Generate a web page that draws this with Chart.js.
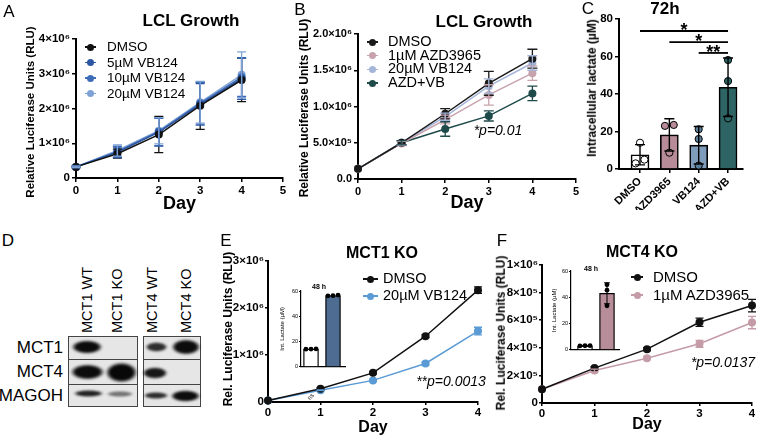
<!DOCTYPE html>
<html>
<head>
<meta charset="utf-8">
<script src="https://cdn.jsdelivr.net/npm/chart.js@4.4.1/dist/chart.umd.min.js"></script>
<style>
  html, body { margin: 0; padding: 0; background: #fff; }
  body { position: relative; width: 757px; height: 440px; overflow: hidden;
         font-family: "Liberation Sans", Arial, Helvetica, sans-serif; color: #000; }
  .abs { position: absolute; }
  .txt { position: absolute; white-space: nowrap; line-height: 1.2; }
  .row { position: absolute; background: #e6e6e6; border: 1px solid #444; box-sizing: border-box; }
  .band { position: absolute; filter: blur(0.8px); }
</style>
</head>
<body>
<script>
// ---- data ----
const days = [0, 1, 2, 3, 4];
const dayTicks = ['0', '1', '2', '3', '4', '5'];

// A: LCL growth, VB124 doses
const aNames = ['DMSO', '5µM VB124', '10µM VB124', '20µM VB124'];
const aDmso = [3.2e5, 7.0e5, 1.25e6, 2.08e6, 2.82e6];
const a5 = [3.2e5, 7.4e5, 1.32e6, 2.12e6, 2.86e6];
const a10 = [3.2e5, 7.6e5, 1.33e6, 2.15e6, 2.9e6];
const a20 = [3.2e5, 7.9e5, 1.36e6, 2.18e6, 2.97e6];
const aDmsoErr = [0.2e5, 1.3e5, 5.2e5, 6.8e5, 6.2e5];
const a5Err = [0.2e5, 1.5e5, 4.0e5, 6.0e5, 6.0e5];
const a10Err = [0.2e5, 1.5e5, 4.0e5, 6.0e5, 5.5e5];
const a20Err = [0.2e5, 1.6e5, 3.8e5, 6.0e5, 6.6e5];
const aYTicks = ['0', '1×10⁶', '2×10⁶', '3×10⁶', '4×10⁶'];

// B: LCL growth, AZD3965 / VB124 combination
const bNames = ['DMSO', '1µM AZD3965', '20µM VB124', 'AZD+VB'];
const bDmso = [1.4e5, 5.0e5, 9.0e5, 1.32e6, 1.66e6];
const bAzd = [1.4e5, 4.9e5, 8.2e5, 1.16e6, 1.46e6];
const bVb = [1.4e5, 5.0e5, 8.6e5, 1.28e6, 1.6e6];
const bCombo = [1.4e5, 5.0e5, 6.9e5, 8.7e5, 1.18e6];
const bDmsoErr = [0, 0.3e5, 0.7e5, 1.65e5, 1.3e5];
const bAzdErr = [0, 0.3e5, 0.6e5, 1.4e5, 1.0e5];
const bVbErr = [0, 0.3e5, 0.5e5, 1.0e5, 1.0e5];
const bComboErr = [0, 0.3e5, 1.0e5, 0.7e5, 1.0e5];
const bYTicks = ['0.0', '5.0×10⁵', '1.0×10⁶', '1.5×10⁶', '2.0×10⁶'];

// C: intracellular lactate at 72h
const cGroups = ['DMSO', 'AZD3965', 'VB124', 'AZD+VB'];
const cMeans = [7.6, 18.2, 12.7, 43.6];
const cSd = [5.4, 8.6, 10.0, 15.6];
const cDots = [[14, 5, 3], [23.5, 23, 8.7], [21.2, 16, 1.8], [58.1, 46.9, 27]];
const cYTicks = ['0', '20', '40', '60', '80'];
const cSig = [[0, 3, '*'], [1, 3, '*'], [2, 3, '**']];
const cSigLevel = [73.6, 67.7, 61.9];

// E: MCT1 KO growth + inset lactate
const eNames = ['DMSO', '20µM VB124'];
const eDmso = [0.03e6, 0.28e6, 0.62e6, 1.4e6, 2.38e6];
const eVb = [0.03e6, 0.25e6, 0.46e6, 0.82e6, 1.51e6];
const eDmsoErr = [0, 0.02e6, 0.02e6, 0.03e6, 0.07e6];
const eVbErr = [0, 0.01e6, 0.02e6, 0.03e6, 0.08e6];
const eYTicks = ['0', '1×10⁶', '2×10⁶', '3×10⁶'];
const eInsetMeans = [14, 56.4];
const eInsetSd = [0, 0];
const eInsetDots = [[13.9, 14, 14.1], [56.2, 56.8, 56.3]];

// F: MCT4 KO growth + inset lactate
const fNames = ['DMSO', '1µM AZD3965'];
const fDmso = [1.0e5, 2.53e5, 3.9e5, 5.85e5, 7.06e5];
const fAzd = [1.0e5, 2.36e5, 3.25e5, 4.29e5, 5.83e5];
const fDmsoErr = [0, 0.1e5, 0.1e5, 0.3e5, 0.45e5];
const fAzdErr = [0, 0.1e5, 0.1e5, 0.25e5, 0.45e5];
const fYTicks = ['0', '2×10⁵', '4×10⁵', '6×10⁵', '8×10⁵', '1×10⁶'];
const fInsetMeans = [3, 43];
const fInsetSd = [0.3, 8];
const fInsetDots = [[2.9, 3, 3.1], [49.6, 45.4, 33.5]];

const insetTicks = ['0', '20', '40', '60'];

// ---- helpers ----
const FONT = '"Liberation Sans", Arial, Helvetica, sans-serif';
Chart.defaults.font.family = FONT;
Chart.defaults.color = '#000';
Chart.defaults.animation = false;

// canvas placed so that the plot area lands on the given pixel box
function frame(area, o) {
  const left = Math.round(o.yTitleX - 0.6 * o.yTitleSize);
  const top = area.t - o.padT;
  const bottom = o.xTitleY ? Math.round(o.xTitleY + 0.6 * o.xTitleSize) : area.b + o.xH;
  return { left, top, width: area.r + o.padR - left, height: bottom - top,
           yW: area.l - left, xH: bottom - area.b, padT: o.padT, padR: o.padR };
}

function place(fr) {
  const div = document.createElement('div');
  div.className = 'abs';
  Object.assign(div.style, { left: fr.left + 'px', top: fr.top + 'px', width: fr.width + 'px', height: fr.height + 'px' });
  const cv = document.createElement('canvas');
  cv.width = fr.width;
  cv.height = fr.height;
  div.appendChild(cv);
  document.body.appendChild(div);
  return cv;
}

function axis(fr, dir, min, max, step, labels, o) {
  const fit = dir === 'x' ? s => { s.height = fr.xH; } : s => { s.width = fr.yW; };
  return {
    type: 'linear', min, max, offset: false, afterFit: fit,
    ticks: { stepSize: step, autoSkip: false, maxRotation: o.rot || 0, minRotation: o.rot || 0,
             padding: o.pad != null ? o.pad : 2, display: o.showTicks !== false,
             font: { size: o.size, weight: o.weight || 'bold' }, color: '#000',
             callback: (v, i) => labels[i] },
    grid: { drawOnChartArea: false, offset: false, drawTicks: o.tickLen > 0, tickLength: o.tickLen || 0,
            color: '#000', lineWidth: o.tickW || 1.5 },
    border: { display: true, color: '#000', width: o.axisW || 2 },
    title: o.title ? { display: true, text: o.title, padding: 0, color: '#000',
                       font: { size: o.titleSize, weight: o.titleWeight || 'bold' } } : { display: false }
  };
}

function baseOptions(fr, scales) {
  return {
    responsive: false, animation: false, devicePixelRatio: 1,
    layout: { padding: { left: 0, top: fr.padT, right: fr.padR, bottom: 0 }, autoPadding: false },
    plugins: { legend: { display: false }, tooltip: { enabled: false } },
    scales
  };
}

// draws mean ± error whiskers with caps using the chart's own y scale
function errorBars(cap, width, color) {
  return {
    id: 'errorBars',
    afterDatasetsDraw(chart) {
      const ctx = chart.ctx;
      chart.data.datasets.forEach((ds, di) => {
        if (!ds.errors) return;
        const meta = chart.getDatasetMeta(di);
        const ys = chart.scales[meta.yAxisID];
        ctx.save();
        ctx.strokeStyle = color || ds.borderColor;
        ctx.lineWidth = width;
        meta.data.forEach((el, i) => {
          const e = ds.errors[i];
          if (!e) return;
          const raw = ds.data[i];
          const v = typeof raw === 'object' ? raw.y : raw;
          const y1 = ys.getPixelForValue(v + e), y2 = ys.getPixelForValue(v - e);
          ctx.beginPath();
          ctx.moveTo(el.x, y1); ctx.lineTo(el.x, y2);
          ctx.moveTo(el.x - cap, y1); ctx.lineTo(el.x + cap, y1);
          ctx.moveTo(el.x - cap, y2); ctx.lineTo(el.x + cap, y2);
          ctx.stroke();
        });
        ctx.restore();
      });
    }
  };
}

function growthChart(fr, names, values, errors, colors, o) {
  const cv = place(fr);
  return new Chart(cv, {
    type: 'line',
    data: {
      labels: days,
      datasets: names.map((n, i) => ({
        label: n, data: values[i], errors: errors[i],
        borderColor: colors[i], backgroundColor: colors[i], pointBackgroundColor: colors[i],
        borderWidth: 1.5, pointRadius: 4, pointBorderWidth: 0, tension: 0, clip: false
      }))
    },
    options: baseOptions(fr, {
      x: axis(fr, 'x', 0, o.xMax, 1, dayTicks, { size: o.tick, tickLen: o.tickLen, pad: o.pad, title: 'Day', titleSize: o.dayTitle }),
      y: axis(fr, 'y', 0, o.yMax, o.yStep, o.yTicks, { size: o.tick, tickLen: o.tickLen, pad: o.pad })
    }),
    plugins: [errorBars(o.cap, 1.3)]
  });
}

// horizontal spread for replicate dots that would overlap
function spread(vals, tol, gap) {
  const idx = vals.map((v, i) => i).sort((a, b) => vals[a] - vals[b]);
  const off = new Array(vals.length).fill(0);
  let group = [idx[0]];
  const flush = () => group.forEach((k, j) => { off[k] = (j - (group.length - 1) / 2) * gap; });
  for (let j = 1; j < idx.length; j++) {
    if (vals[idx[j]] - vals[idx[j - 1]] < tol) group.push(idx[j]);
    else { flush(); group = [idx[j]]; }
  }
  flush();
  return off;
}

function barDotChart(fr, means, sds, dots, fills, dotFills, o, extraPlugins) {
  const cv = place(fr);
  const datasets = [{
    type: 'bar', data: means.map((m, i) => ({ x: i, y: m })), errors: sds,
    backgroundColor: fills, borderColor: '#000', borderWidth: o.barBorder, barThickness: o.barW,
    borderSkipped: 'bottom', order: 2
  }];
  dots.forEach((vals, gi) => {
    const off = spread(vals, o.tol, o.gap);
    datasets.push({
      type: 'scatter', data: vals.map((v, k) => ({ x: gi + off[k], y: v })),
      pointRadius: o.dotR, pointBackgroundColor: dotFills[gi], pointBorderColor: '#000',
      pointBorderWidth: o.dotBorder, order: 1, clip: false
    });
  });
  const xAxis = axis(fr, 'x', o.xMin, o.xMax, 1, o.xLabels || [], {
    size: o.xTick || 11, rot: o.rot, tickLen: o.xTickLen || 0, showTicks: !!o.xLabels, axisW: o.axisW, tickW: o.tickW
  });
  xAxis.afterBuildTicks = s => { s.ticks = means.map((m, i) => ({ value: i })); };
  return new Chart(cv, {
    type: 'bar',
    data: { datasets },
    options: baseOptions(fr, {
      x: xAxis,
      y: axis(fr, 'y', 0, o.yMax, o.yStep, o.yTicks, {
        size: o.yTick, weight: o.yTickWeight, tickLen: o.yTickLen, pad: o.pad, axisW: o.axisW, tickW: o.tickW,
        title: o.yTitle, titleSize: o.yTitleSize, titleWeight: o.yTitleWeight
      })
    }),
    plugins: [errorBars(o.cap, o.errW, '#000')].concat(extraPlugins || [])
  });
}

const sigPlugin = {
  id: 'sig',
  afterDatasetsDraw(chart) {
    const ctx = chart.ctx, xs = chart.scales.x, ys = chart.scales.y;
    ctx.save();
    ctx.strokeStyle = '#000'; ctx.fillStyle = '#000'; ctx.lineWidth = 1.8;
    ctx.font = 'bold 18px ' + FONT; ctx.textAlign = 'center'; ctx.textBaseline = 'alphabetic';
    cSig.forEach((s, k) => {
      const y = ys.getPixelForValue(cSigLevel[k]);
      const x1 = xs.getPixelForValue(s[0]), x2 = xs.getPixelForValue(s[1]);
      ctx.beginPath(); ctx.moveTo(x1, y); ctx.lineTo(x2, y); ctx.stroke();
      ctx.fillText(s[2], (x1 + x2) / 2, y + 5);
    });
    ctx.restore();
  }
};

function label(text, x, y, o = {}) {
  const d = document.createElement('div');
  d.className = 'txt';
  d.textContent = text;
  d.style.fontSize = (o.size || 12) + 'px';
  if (o.bold) d.style.fontWeight = 'bold';
  if (o.italic) d.style.fontStyle = 'italic';
  d.style.left = x + 'px';
  d.style.top = y + 'px';
  const ax = o.align === 'left' ? '0' : o.align === 'right' ? '-100%' : '-50%';
  d.style.transform = `translate(${ax}, -50%)` + (o.rot ? ` rotate(${o.rot}deg)` : '');
  document.body.appendChild(d);
  return d;
}

// vertical text reading bottom-to-top, starting at (cx, bottom)
function upLabel(text, cx, bottom, size) {
  const d = document.createElement('div');
  d.className = 'txt';
  d.textContent = text;
  d.style.fontSize = size + 'px';
  d.style.left = (cx - size * 0.6) + 'px';
  d.style.top = bottom + 'px';
  d.style.transformOrigin = '0 0';
  d.style.transform = 'rotate(-90deg)';
  document.body.appendChild(d);
}

function legend(names, colors, mx, tx, y0, dy, size, lw) {
  names.forEach((n, i) => {
    const y = y0 + i * dy;
    const ln = document.createElement('div');
    ln.className = 'abs';
    Object.assign(ln.style, { left: (mx - lw / 2) + 'px', top: (y - 0.8) + 'px', width: lw + 'px', height: '1.6px', background: colors[i] });
    const dot = document.createElement('div');
    dot.className = 'abs';
    Object.assign(dot.style, { left: (mx - 3.5) + 'px', top: (y - 3.5) + 'px', width: '7px', height: '7px', borderRadius: '50%', background: colors[i] });
    document.body.appendChild(ln);
    document.body.appendChild(dot);
    label(n, tx, y, { size, align: 'left' });
  });
}

function blotRow(x, y, w, h) {
  const d = document.createElement('div');
  d.className = 'row';
  Object.assign(d.style, { left: x + 'px', top: y + 'px', width: w + 'px', height: h + 'px' });
  document.body.appendChild(d);
}

function band(x1, y1, x2, y2, a) {
  const d = document.createElement('div');
  d.className = 'band';
  Object.assign(d.style, {
    left: x1 + 'px', top: y1 + 'px', width: (x2 - x1) + 'px', height: (y2 - y1) + 'px',
    background: `radial-gradient(ellipse closest-side, rgba(0,0,0,${a}) 68%, rgba(0,0,0,0) 100%)`
  });
  document.body.appendChild(d);
}

// ---- A ----
const aColors = ['#111111', '#2b56a3', '#3d6db8', '#7fa2d6'];
growthChart(
  frame({ l: 76, t: 39, r: 283, b: 178 }, { yTitleX: 31, yTitleSize: 11, xTitleY: 204, xTitleSize: 18, padT: 10, padR: 8 }),
  aNames, [aDmso, a5, a10, a20], [aDmsoErr, a5Err, a10Err, a20Err], aColors,
  { xMax: 5, yMax: 4e6, yStep: 1e6, yTicks: aYTicks, tick: 11.5, tickLen: 4, pad: 2, dayTitle: 18, cap: 4.5 }
);
label('Relative Luciferase Units (RLU)', 31, 112, { size: 11.5, bold: true, rot: -90 });
legend(aNames, aColors, 90, 107, 47, 15.5, 13.5, 11);
label('LCL Growth', 191, 21, { size: 17, bold: true });
label('A', 9, 12, { size: 17 });

// ---- B ----
const bColors = ['#1a1a1a', '#c8a3ad', '#a5b5da', '#1f4a4a'];
growthChart(
  frame({ l: 358, t: 34, r: 576, b: 179 }, { yTitleX: 304, yTitleSize: 12, xTitleY: 203, xTitleSize: 18, padT: 10, padR: 8 }),
  bNames, [bDmso, bAzd, bVb, bCombo], [bDmsoErr, bAzdErr, bVbErr, bComboErr], bColors,
  { xMax: 5, yMax: 2e6, yStep: 5e5, yTicks: bYTicks, tick: 11, tickLen: 4, pad: 2, dayTitle: 18, cap: 5 }
);
label('Relative Luciferase Units (RLU)', 304, 108, { size: 12, bold: true, rot: -90 });
legend(bNames, bColors, 372, 388, 42, 13.7, 14.5, 11);
label('LCL Growth', 484, 22, { size: 17, bold: true });
label('*p=0.01', 498, 130, { size: 14, italic: true });
label('B', 300, 10, { size: 17 });

// ---- C ----
barDotChart(
  frame({ l: 619, t: 19, r: 743, b: 169 }, { yTitleX: 592, yTitleSize: 12, xH: 41, padT: 10, padR: 10 }),
  cMeans, cSd, cDots,
  ['#ffffff', '#b78b98', '#7f9cba', '#2e6464'],
  ['#ffffff', '#b78b98', '#5a7f9c', '#2f6b6b'],
  { xMin: -0.716, xMax: 3.51, xLabels: cGroups, xTick: 11, rot: 45, xTickLen: 4,
    yMax: 80, yStep: 20, yTicks: cYTicks, yTick: 11.5, yTickLen: 4, pad: 2, axisW: 2, tickW: 1.5,
    barW: 18, barBorder: 1.6, dotR: 3.6, dotBorder: 1, tol: 4, gap: 0.3, cap: 5, errW: 1.4 },
  [sigPlugin]
);
label('Intracellular lactate (µM)', 592, 88, { size: 12, bold: true, rot: -90 });
label('72h', 665, 9, { size: 17, bold: true });
label('C', 588, 9, { size: 17 });

// ---- D (western blot) ----
label('D', 8, 241, { size: 17 });
blotRow(68, 336, 70, 24); blotRow(68, 359, 70, 26); blotRow(68, 384, 70, 23);
blotRow(143, 336, 58, 24); blotRow(143, 359, 58, 26); blotRow(143, 384, 58, 23);
band(71, 340, 103, 354, 0.95); band(145, 342, 168, 352, 0.8); band(171, 339, 201, 355, 0.95);
band(70, 364, 105, 380, 0.95); band(105, 362, 138, 383, 0.97); band(142, 367, 168, 379, 0.9);
band(73, 390, 104, 397, 0.85); band(106, 391, 134, 397, 0.5); band(143, 392, 169, 399, 0.8); band(170, 390, 201, 402, 0.95);
label('MCT1', 63, 348, { size: 17, align: 'right' });
label('MCT4', 63, 372, { size: 17, align: 'right' });
label('MAGOH', 63, 396, { size: 17, align: 'right' });
upLabel('MCT1 WT', 88, 333, 14.5);
upLabel('MCT1 KO', 118, 333, 14.5);
upLabel('MCT4 WT', 153, 333, 14.5);
upLabel('MCT4 KO', 187, 333, 14.5);

// ---- E ----
const eColors = ['#111111', '#5b9bd5'];
growthChart(
  frame({ l: 268, t: 261, r: 478, b: 402 }, { yTitleX: 228, yTitleSize: 12, xTitleY: 427, xTitleSize: 16, padT: 10, padR: 8 }),
  eNames, [eDmso, eVb], [eDmsoErr, eVbErr], eColors,
  { xMax: 4, yMax: 3e6, yStep: 1e6, yTicks: eYTicks, tick: 11.5, tickLen: 3, pad: 1, dayTitle: 16, cap: 4 }
);
label('Rel. Luciferase Units (RLU)', 228, 329, { size: 12, bold: true, rot: -90 });
barDotChart(
  frame({ l: 301, t: 291, r: 345, b: 369 }, { yTitleX: 283, yTitleSize: 6, xH: 2, padT: 5, padR: 3 }),
  eInsetMeans, eInsetSd, eInsetDots, ['#ffffff', '#4e6b92'], ['#000', '#000'],
  { xMin: -0.4545, xMax: 1.545, yMax: 60, yStep: 20, yTicks: insetTicks, yTick: 5.5, yTickWeight: 'normal',
    yTickLen: 2, pad: 1, axisW: 1.2, tickW: 1, yTitle: 'Int. Lactate (µM)', yTitleSize: 6, yTitleWeight: 'normal',
    barW: 15, barBorder: 1.3, dotR: 2.4, dotBorder: 0, tol: 3, gap: 0.23, cap: 3, errW: 1 }
);
legend(eNames, eColors, 370, 383, 279, 17, 14.5, 15);
label('MCT1 KO', 382, 253, { size: 16, bold: true });
label('48 h', 319, 287, { size: 7, bold: true });
label('**p=0.0013', 451, 381, { size: 14, italic: true });
label('ns', 311, 397, { size: 6, rot: -50 });
label('E', 226, 241, { size: 17 });

// ---- F ----
const fColors = ['#111111', '#c49ba7'];
growthChart(
  frame({ l: 542, t: 265, r: 752, b: 403 }, { yTitleX: 501, yTitleSize: 12, xTitleY: 424, xTitleSize: 16, padT: 10, padR: 5 }),
  fNames, [fDmso, fAzd], [fDmsoErr, fAzdErr], fColors,
  { xMax: 4, yMax: 1e6, yStep: 2e5, yTicks: fYTicks, tick: 11.5, tickLen: 3, pad: 1, dayTitle: 16, cap: 4 }
);
label('Rel. Luciferase Units (RLU)', 501, 333, { size: 12, bold: true, rot: -90 });
barDotChart(
  frame({ l: 571, t: 271, r: 619, b: 352 }, { yTitleX: 555, yTitleSize: 6, xH: 2, padT: 5, padR: 3 }),
  fInsetMeans, fInsetSd, fInsetDots, ['#ffffff', '#b78d99'], ['#000', '#000'],
  { xMin: -0.636, xMax: 1.545, yMax: 60, yStep: 20, yTicks: insetTicks, yTick: 5.5, yTickWeight: 'normal',
    yTickLen: 2, pad: 1, axisW: 1.2, tickW: 1, yTitle: 'Int. Lactate (µM)', yTitleSize: 6, yTitleWeight: 'normal',
    barW: 15, barBorder: 1.3, dotR: 2.4, dotBorder: 0, tol: 3, gap: 0.23, cap: 3, errW: 1 }
);
legend(fNames, fColors, 637, 653, 277, 18, 15, 12);
label('MCT4 KO', 642, 252, { size: 16, bold: true });
label('48 h', 591, 269, { size: 7, bold: true });
label('*p=0.0137', 723, 362, { size: 14, italic: true });
label('F', 502, 241, { size: 17 });
</script>
</body>
</html>
